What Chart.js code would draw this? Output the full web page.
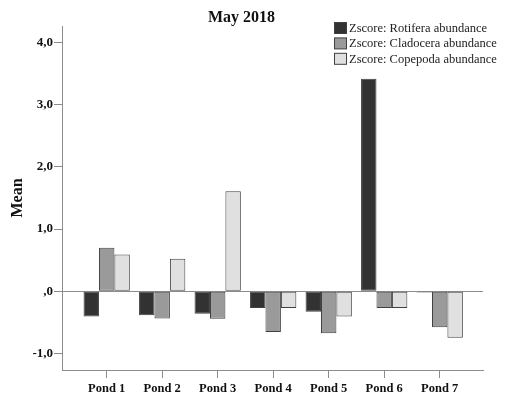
<!DOCTYPE html>
<html>
<head>
<meta charset="utf-8">
<script src="https://cdn.jsdelivr.net/npm/chart.js@4/dist/chart.umd.min.js"></script>
<style>
  html, body { margin: 0; padding: 0; background: #fff; }
  canvas { display: block; }
</style>
</head>
<body>
<canvas id="chart" width="509" height="393"></canvas>
<script>
// Mean z-scores of zooplankton abundance per pond, May 2018
const ponds = ['Pond 1', 'Pond 2', 'Pond 3', 'Pond 4', 'Pond 5', 'Pond 6', 'Pond 7'];
const rotifera  = [-0.41, -0.39, -0.365, -0.27, -0.33, 3.42, -0.02];
const cladocera = [ 0.70, -0.44, -0.445, -0.66, -0.68, -0.27, -0.58];
const copepoda  = [ 0.59,  0.52,  1.61,  -0.27, -0.41, -0.27, -0.75];
const seriesNames = ['Zscore: Rotifera abundance', 'Zscore: Cladocera abundance', 'Zscore: Copepoda abundance'];
const yTicks = [-1, 0, 1, 2, 3, 4];

const fills = ['#323232', '#9a9a9a', '#e0e0e0'];
const axisColor = '#8c8c8c';
const serif = "'Liberation Serif', 'Times New Roman', serif";

function toPoints(values) {
  return values.map((v, i) => ({ x: i, y: v }));
}

const datasets = [rotifera, cladocera, copepoda].map((vals, k) => ({
  label: seriesNames[k],
  data: toPoints(vals),
  backgroundColor: fills[k],
  borderColor: '#404040',
  borderWidth: 1,
  borderSkipped: false,
  categoryPercentage: 0.834,
  barPercentage: 1.0
}));

// Legend box in the upper right corner
const cornerLegend = {
  id: 'cornerLegend',
  afterDraw(chart) {
    const ctx = chart.ctx;
    ctx.save();
    ctx.font = '12.5px ' + serif;
    ctx.textBaseline = 'middle';
    ctx.textAlign = 'left';
    chart.data.datasets.forEach((ds, i) => {
      const y = 22 + i * 15.4;
      ctx.fillStyle = ds.backgroundColor;
      ctx.fillRect(334.5, y + 0.5, 12, 11);
      ctx.strokeStyle = '#404040';
      ctx.lineWidth = 1;
      ctx.strokeRect(334.5, y + 0.5, 12, 11);
      ctx.fillStyle = '#222';
      ctx.fillText(ds.label, 349, y + 6.5);
    });
    ctx.restore();
  }
};

new Chart(document.getElementById('chart'), {
  type: 'bar',
  data: { datasets },
  options: {
    responsive: false,
    devicePixelRatio: 1,
    animation: false,
    layout: { padding: { left: 0, right: 26, top: 0, bottom: 0 } },
    plugins: {
      legend: { display: false },
      tooltip: { enabled: false },
      title: {
        display: true,
        text: 'May 2018',
        color: '#111',
        font: { family: serif, size: 16, weight: 'bold', lineHeight: 1.0 },
        padding: { top: 10, bottom: 0 }
      }
    },
    scales: {
      x: {
        type: 'linear',
        min: -0.805,
        max: 6.78,
        offset: false,
        afterBuildTicks: (scale) => { scale.ticks = ponds.map((_, i) => ({ value: i })); },
        afterFit: (scale) => { scale.height = 23; },
        ticks: {
          callback: (v) => ponds[v],
          color: '#111',
          font: { family: serif, size: 12.5, weight: 'bold' },
          padding: 3,
          maxRotation: 0,
          autoSkip: false
        },
        grid: { offset: false, drawOnChartArea: false, drawTicks: true, tickLength: 8, tickColor: axisColor, color: axisColor },
        border: { display: true, color: axisColor, width: 1 }
      },
      y: {
        min: -1.27,
        max: 4.27,
        afterBuildTicks: (scale) => { scale.ticks = yTicks.map(v => ({ value: v })); },
        afterFit: (scale) => { scale.width = 62; },
        ticks: {
          callback: (v) => v === 0 ? ',0' : v.toFixed(1).replace('.', ','),
          color: '#111',
          font: { family: serif, size: 13, weight: 'bold' },
          padding: 1
        },
        grid: {
          drawOnChartArea: true,
          drawTicks: true,
          tickLength: 8,
          tickColor: axisColor,
          color: (c) => (c.tick && c.tick.value === 0) ? axisColor : 'rgba(0,0,0,0)'
        },
        border: { display: true, color: axisColor, width: 1 },
        title: {
          display: true,
          text: 'Mean',
          color: '#111',
          font: { family: serif, size: 16, weight: 'bold' },
          padding: { top: 8, bottom: 0 }
        }
      }
    }
  },
  plugins: [cornerLegend]
});
</script>
</body>
</html>
